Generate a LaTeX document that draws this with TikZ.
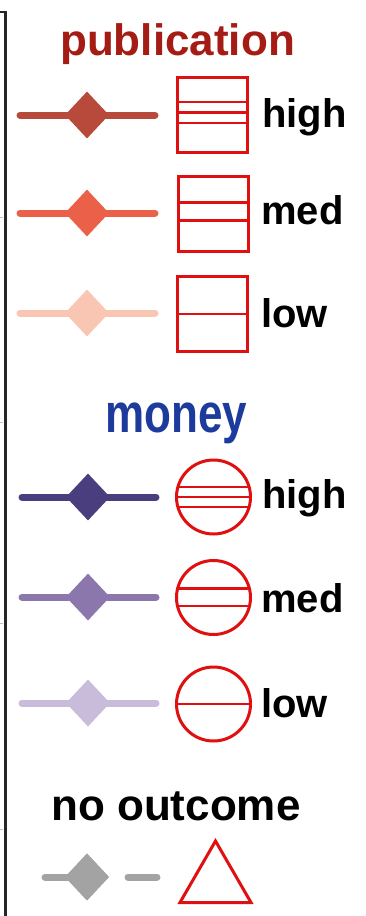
\documentclass[tikz,border=0pt]{standalone}
\usepackage{fontspec}
\setmainfont{Liberation Sans}
\usetikzlibrary{shapes.geometric,calc}
\definecolor{pubtitle}{HTML}{A51C14}
\definecolor{montitle}{HTML}{1D3B9C}
\definecolor{pubhigh}{HTML}{B84A3C}
\definecolor{pubmed}{HTML}{EA6048}
\definecolor{publow}{HTML}{F8C6B2}
\definecolor{monhigh}{HTML}{4B3E7E}
\definecolor{monmed}{HTML}{8C77AC}
\definecolor{monlow}{HTML}{C9BBDA}
\definecolor{nogray}{HTML}{A3A3A3}
\definecolor{symred}{HTML}{E01010}
\begin{document}
\begin{tikzpicture}[x=1pt,y=-1pt,
  legline/.style={line width=7pt,line cap=round},
  legdia/.style={diamond,inner sep=0pt,minimum width=44pt,minimum height=47pt,draw=none},
  legbox/.style={rectangle,draw=symred,line width=3pt,minimum width=70pt,minimum height=75pt,inner sep=0pt},
  legcirc/.style={circle,draw=symred,line width=3pt,minimum size=74pt,inner sep=0pt},
  legtri/.style={regular polygon,regular polygon sides=3,draw=symred,line width=3pt,minimum size=82pt,inner sep=0pt},
  inline/.style={symred,line width=2.5pt},
  title/.style={anchor=base west,inner sep=0pt,font=\fontsize{44}{50}\selectfont\bfseries},
  lab/.style={anchor=base west,inner sep=0pt,font=\fontsize{40}{46}\selectfont\bfseries}]
\useasboundingbox (0,0) rectangle (366,916);
\fill[white] (0,0) rectangle (366,916);
% frame
\coordinate (f0) at (0,12); \coordinate (f1) at (5.5,12); \coordinate (f2) at (5.5,916);
\draw[line width=2.5pt,black!85] (f0) -- (f1) -- (f2);
\foreach \ty in {217,422,623,829}{\draw[gray!50,line width=1pt] (0,\ty) -- (3,\ty);}
% titles
\node[title,text=pubtitle] (tpub) at (60,55) {publication};
\node[title,text=montitle] (tmon) at (105,432) {\scalebox{1}[1.25]{money}};
\node[title,text=black] (tno) at (51,820) {no outcome};
% publication high
\coordinate (phl) at (20,115); \coordinate (phr) at (155,115);
\draw[legline,pubhigh] (phl) -- (phr);
\node[legdia,fill=pubhigh] (phd) at (87,115) {};
\node[legbox] (phb) at (212,115) {};
\draw[inline] ($(phb.north west)+(0,26)$) -- ($(phb.north east)+(0,26)$);
\draw[inline] ($(phb.north west)+(0,36.5)$) -- ($(phb.north east)+(0,36.5)$);
\draw[inline] ($(phb.north west)+(0,47)$) -- ($(phb.north east)+(0,47)$);
\node[lab] (phtxt) at (262,127) {high};
% publication med
\coordinate (pml) at (20,213); \coordinate (pmr) at (155,213);
\draw[legline,pubmed] (pml) -- (pmr);
\node[legdia,fill=pubmed] (pmd) at (87,213) {};
\node[legbox] (pmb) at (213.5,213.5) {};
\draw[inline] ($(pmb.north west)+(0,28)$) -- ($(pmb.north east)+(0,28)$);
\draw[inline] ($(pmb.north west)+(0,46)$) -- ($(pmb.north east)+(0,46)$);
\node[lab] (pmtxt) at (261,224) {med};
% publication low
\coordinate (pll) at (20,313); \coordinate (plr) at (155,313);
\draw[legline,publow] (pll) -- (plr);
\node[legdia,fill=publow] (pld) at (87,313) {};
\node[legbox] (plb) at (212.5,314) {};
\draw[inline] (plb.west) -- (plb.east);
\node[lab] (pltxt) at (261,327) {low};
% money high
\coordinate (mhl) at (22,497); \coordinate (mhr) at (156,497);
\draw[legline,monhigh] (mhl) -- (mhr);
\node[legdia,fill=monhigh] (mhd) at (88,497) {};
\node[legcirc] (mhc) at (213.5,497) {};
\draw[inline] ($(mhc.center)+(-35.6,-10)$) -- ($(mhc.center)+(35.6,-10)$);
\draw[inline] (mhc.west) -- (mhc.east);
\draw[inline] ($(mhc.center)+(-35.6,10)$) -- ($(mhc.center)+(35.6,10)$);
\node[lab] (mhtxt) at (262,508) {high};
% money med
\coordinate (mml) at (22,597); \coordinate (mmr) at (156,597);
\draw[legline,monmed] (mml) -- (mmr);
\node[legdia,fill=monmed] (mmd) at (88,597) {};
\node[legcirc] (mmc) at (213.5,597.5) {};
\draw[inline] ($(mmc.center)+(-35.8,-9)$) -- ($(mmc.center)+(35.8,-9)$);
\draw[inline] ($(mmc.center)+(-35.8,8.5)$) -- ($(mmc.center)+(35.8,8.5)$);
\node[lab] (mmtxt) at (261,612) {med};
% money low
\coordinate (mll) at (22,703); \coordinate (mlr) at (156,703);
\draw[legline,monlow] (mll) -- (mlr);
\node[legdia,fill=monlow] (mld) at (88,703) {};
\node[legcirc] (mlc) at (213.5,704) {};
\draw[inline] (mlc.west) -- (mlc.east);
\node[lab] (mltxt) at (261,717) {low};
% no outcome
\coordinate (nol) at (45,877); \coordinate (nor1) at (128,877); \coordinate (nor2) at (157,877);
\node[legdia,fill=nogray] (nod) at (87,877) {};
\draw[legline,nogray] (nol) -- (nod.center);
\draw[legline,nogray] (nor1) -- (nor2);
\node[legdia,fill=nogray] (nod2) at (87,877) {};
\node[legtri] (notri) at (215.5,882) {};
\end{tikzpicture}
\end{document}
